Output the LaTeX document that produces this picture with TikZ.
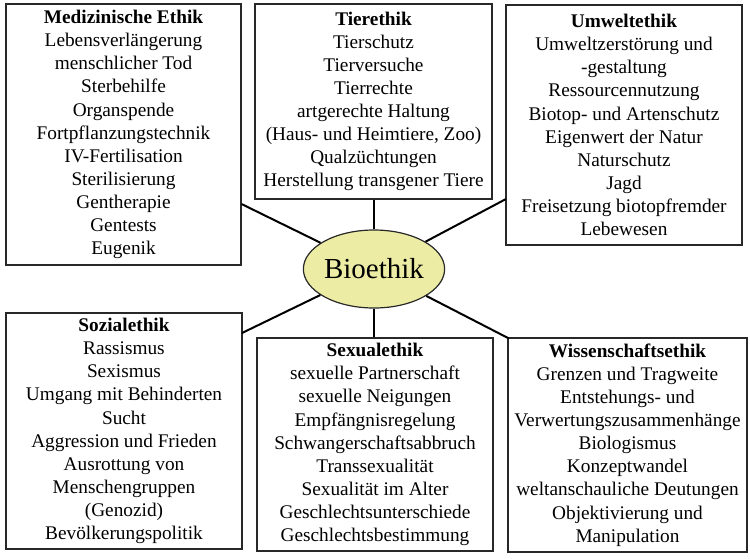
\documentclass[tikz,border=0pt]{standalone}
\usepackage{fontspec}
\setmainfont{Liberation Serif}
\usetikzlibrary{shapes.geometric}
\definecolor{bioyellow}{RGB}{236,236,164}
\definecolor{boxline}{RGB}{40,40,40}
\tikzset{
  topicbox/.style={draw=boxline, line width=1.5pt, fill=white, align=center,
    inner sep=0pt, font=\fontsize{19.3}{23.1}\selectfont},
  link/.style={line width=2pt, black},
  hub/.style={ellipse, draw=boxline, line width=1.2pt, fill=bioyellow,
    inner sep=0pt, minimum width=133pt, minimum height=78pt,
    font=\fontsize{29}{32}\selectfont}
}
\begin{document}
\begin{tikzpicture}[x=1pt,y=-1pt]
\useasboundingbox (0,0) rectangle (750,558);
\fill[white] (0,0) rectangle (750,558);

\node[topicbox, minimum width=235pt, minimum height=261pt] (med) at (123.5,134.5)
 {\textbf{Medizinische Ethik}\\Lebensverlängerung\\menschlicher Tod\\Sterbehilfe\\Organspende\\Fortpflanzungstechnik\\IV-Fertilisation\\Sterilisierung\\Gentherapie\\Gentests\\Eugenik};

\node[topicbox, minimum width=237pt, minimum height=195pt] (tier) at (373.5,101.5)
 {\textbf{Tierethik}\\Tierschutz\\Tierversuche\\Tierrechte\\artgerechte Haltung\\(Haus- und Heimtiere, Zoo)\\Qualzüchtungen\\Herstellung transgener Tiere};

\node[topicbox, minimum width=236pt, minimum height=240pt] (umwelt) at (624,125)
 {\textbf{Umweltethik}\\Umweltzerstörung und\\-gestaltung\\Ressourcennutzung\\Biotop- und Artenschutz\\Eigenwert der Natur\\Naturschutz\\Jagd\\Freisetzung biotopfremder\\Lebewesen};

\node[topicbox, minimum width=236pt, minimum height=236pt] (sozial) at (124,431)
 {\textbf{Sozialethik}\\Rassismus\\Sexismus\\Umgang mit Behinderten\\Sucht\\Aggression und Frieden\\Ausrottung von\\Menschengruppen\\(Genozid)\\Bevölkerungspolitik};

\node[topicbox, minimum width=236pt, minimum height=213pt] (sexual) at (375,444.5)
 {\textbf{Sexualethik}\\sexuelle Partnerschaft\\sexuelle Neigungen\\Empfängnisregelung\\Schwangerschaftsabbruch\\Transsexualität\\Sexualität im Alter\\Geschlechtsunterschiede\\Geschlechtsbestimmung};

\node[topicbox, minimum width=239pt, minimum height=214pt] (wiss) at (627.5,445)
 {\textbf{Wissenschaftsethik}\\Grenzen und Tragweite\\Entstehungs- und\\Verwertungszusammenhänge\\Biologismus\\Konzeptwandel\\weltanschauliche Deutungen\\Objektivierung und\\Manipulation};

\node[hub] (bio) at (374,269) {Bioethik};

\coordinate (pmed) at (241.5,204);
\coordinate (pumw) at (506,199);
\coordinate (psoz) at (242,333);
\coordinate (pwiss) at (509,338.5);

\draw[link] (bio) -- (pmed);
\draw[link] (bio.north) -- (tier.south -| bio.north);
\draw[link] (bio) -- (pumw);
\draw[link] (bio) -- (psoz);
\draw[link] (bio.south) -- (sexual.north -| bio.south);
\draw[link] (bio) -- (pwiss);
\end{tikzpicture}
\end{document}
